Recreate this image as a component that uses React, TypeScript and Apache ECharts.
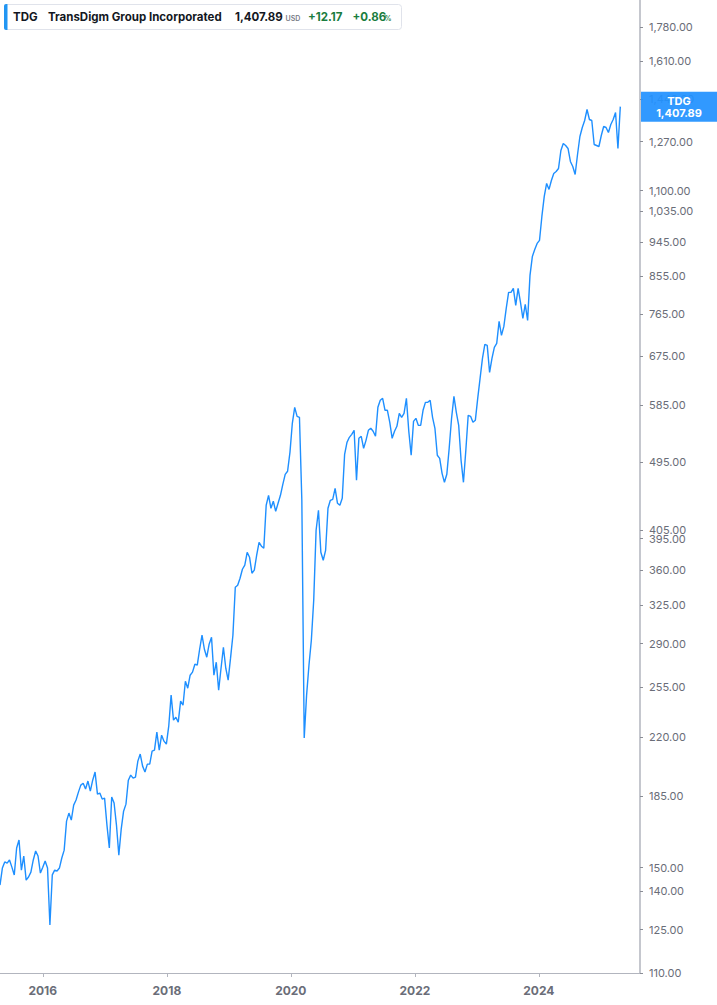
import React, { useEffect, useRef } from 'react';
import * as echarts from 'echarts';

const SYMBOL = 'TDG';
const COMPANY = 'TransDigm Group Incorporated';
const LAST_PRICE = 1407.89;
const LAST_LABEL = '1,407.89';
const CURRENCY = 'USD';
const CHANGE = '+12.17';
const CHANGE_PCT = '+0.86';

// bi-weekly closes, first one dated 2015-04-24
const START = [2015, 3, 24];
const STEP_DAYS = 14;
const X_MIN = [2015, 3, 24];
const X_MAX = [2025, 7, 19];

const closes2015_2016 = [
  142.5, 149.8, 152.5, 152.0, 153.4, 150.2, 146.8, 158.9, 162.7, 148.9,
  155.2, 144.6, 145.9, 148.0, 153.4, 157.5, 155.2, 147.6, 150.2, 152.9,
  149.8, 126.7, 146.8, 148.9, 148.5, 149.8, 154.3, 157.9, 172.0, 176.1,
  172.5, 180.3, 183.0, 187.3, 191.2, 192.3, 189.0, 193.5, 187.9, 194.0,
];
const closes2017_2018 = [
  198.7, 186.2, 186.8, 183.5, 184.0, 170.0, 158.9, 184.6, 181.4, 170.0,
  155.6, 168.0, 177.1, 180.8, 194.0, 196.9, 195.2, 195.8, 205.2, 209.5,
  202.2, 198.7, 203.4, 203.4, 211.3, 211.9, 223.5, 211.9, 221.5, 217.6,
  215.7, 227.4, 249.2, 231.5, 233.5, 230.1, 244.8, 241.9, 259.6, 254.3,
  264.2, 266.6, 272.9, 272.1, 285.2, 297.2, 285.2, 278.6, 289.5, 295.5,
  264.2, 274.5, 252.8, 269.7, 286.9, 269.7, 260.4, 277.8, 297.2, 342.3,
];
const closes2019_2020 = [
  344.3, 351.5, 360.9, 365.2, 379.4, 373.9, 356.7, 359.9, 376.1, 390.7,
  386.2, 383.9, 435.7, 448.6, 431.8, 440.8, 428.0, 438.2, 448.6, 463.4,
  477.2, 481.5, 509.1, 554.5, 581.2, 566.0, 564.3, 442.1, 219.6, 249.2,
  272.1, 292.9, 329.5, 404.8, 429.3, 379.4, 370.6, 381.6, 431.8, 442.1,
  443.4, 458.0, 438.2, 435.7, 444.7, 506.1, 524.3, 532.1, 536.8, 543.2,
];
const closes2021_2022 = [
  468.9, 530.5, 533.7, 515.2, 527.4, 543.2, 546.4, 541.6, 533.7, 581.2,
  593.3, 596.8, 576.1, 576.1, 556.1, 530.5, 541.6, 549.6, 571.0, 564.3,
  571.0, 596.8, 541.6, 504.7, 557.7, 562.7, 551.2, 551.2, 576.1, 589.8,
  589.8, 593.3, 564.3, 546.4, 504.7, 500.2, 478.6, 466.1, 477.2, 515.2,
  562.7, 600.3, 572.7, 551.2, 497.3, 466.1, 512.1, 567.7, 566.0, 556.1,
];
const closes2023_2025 = [
  559.4, 596.8, 632.9, 671.3, 699.5, 697.4, 644.2, 671.3, 693.4, 701.5,
  748.4, 718.2, 737.5, 777.6, 815.1, 815.1, 824.7, 784.5, 824.7, 791.5,
  755.1, 786.8, 750.6, 856.9, 906.1, 925.0, 941.4, 949.8, 1019.2, 1081.0,
  1123.1, 1103.5, 1133.1, 1156.6, 1163.5, 1173.8, 1237.6, 1263.3, 1255.9, 1244.9,
  1198.2, 1180.7, 1153.2, 1223.1, 1289.6, 1324.2, 1351.7, 1396.2, 1355.7, 1351.7,
  1259.6, 1255.9, 1252.2, 1293.4, 1328.1, 1324.2, 1304.9, 1335.9, 1355.7, 1383.9,
  1244.9, 1407.89,
];

const priceTicks = [
  110, 125, 140, 150, 185, 220, 255, 290, 325, 360, 395, 405, 495, 585, 675,
  765, 855, 945, 1035, 1100, 1270, 1440, 1610, 1780,
];
const yearTicks = [2016, 2018, 2020, 2022, 2024];

const FONT = 'Inter, "Noto Sans", sans-serif';
const LINE_COLOR = '#1e8fff';
const AXIS_COLOR = '#b2b5be';
const LABEL_COLOR = '#6a6d78';
const GREEN = '#1a7d40';
const DARK = '#131722';

const ts = (a: number[]) => new Date(a[0], a[1], a[2]).getTime();

export default function App() {
  const ref = useRef<HTMLDivElement>(null);

  useEffect(() => {
    if (!ref.current) return;
    const chart = echarts.init(ref.current, null, { renderer: 'svg' });
    const closes = [
      ...closes2015_2016,
      ...closes2017_2018,
      ...closes2019_2020,
      ...closes2021_2022,
      ...closes2023_2025,
    ];
    const start = ts(START);
    const data = closes.map((c, i) => [start + i * STEP_DAYS * 86400000, c]);
    const yearValues = yearTicks.map((y) => new Date(y, 0, 1).getTime());

    chart.setOption({
      animation: false,
      textStyle: { fontFamily: FONT },
      grid: { left: 0, top: 0, right: 77, bottom: 32, outerBoundsMode: 'none' },
      xAxis: {
        type: 'value',
        min: ts(X_MIN),
        max: ts(X_MAX),
        axisLine: { show: true, lineStyle: { color: AXIS_COLOR, width: 1.2 } },
        axisTick: {
          show: true,
          customValues: yearValues,
          length: 4,
          lineStyle: { color: AXIS_COLOR, width: 1 },
        },
        axisLabel: {
          customValues: yearValues,
          formatter: (v: number) => String(new Date(v).getFullYear()),
          color: LABEL_COLOR,
          fontFamily: FONT,
          fontSize: 12,
          fontWeight: 'bold',
          margin: 11,
          hideOverlap: false,
        },
        splitLine: { show: false },
      },
      yAxis: {
        type: 'log',
        logBase: 10,
        position: 'right',
        min: 110,
        max: 1927,
        axisLine: { show: true, lineStyle: { color: AXIS_COLOR, width: 1.5 } },
        axisTick: {
          show: true,
          customValues: priceTicks,
          length: 3,
          lineStyle: { color: '#8a8d96', width: 1 },
        },
        axisLabel: {
          customValues: priceTicks,
          formatter: (v: number) =>
            Number(v).toLocaleString('en-US', {
              minimumFractionDigits: 2,
              maximumFractionDigits: 2,
            }),
          color: LABEL_COLOR,
          fontFamily: FONT,
          fontSize: 11,
          margin: 9,
          hideOverlap: false,
        },
        splitLine: { show: false },
      },
      series: [
        {
          type: 'line',
          data,
          showSymbol: false,
          symbol: 'none',
          lineStyle: { color: LINE_COLOR, width: 1.4 },
          silent: true,
        },
      ],
    });

    const py = chart.convertToPixel({ yAxisIndex: 0 }, LAST_PRICE) as number;
    const hdr = (text: string, x: number, fill: string, font: string, y = 17) => ({
      type: 'text',
      x,
      y,
      z: 100,
      style: { text, fill, font, verticalAlign: 'middle' },
    });

    chart.setOption({
      graphic: {
        elements: [
          {
            type: 'rect',
            z: 100,
            shape: { x: 4.5, y: 4.5, width: 397, height: 25, r: 3 },
            style: { fill: '#ffffff', stroke: '#e0e3eb', lineWidth: 1 },
          },
          {
            type: 'rect',
            z: 101,
            shape: { x: 4, y: 4, width: 3.5, height: 26, r: [2, 0, 0, 2] },
            style: { fill: '#2196f3' },
          },
          hdr(SYMBOL, 13, DARK, `bold 11.5px ${FONT}`),
          hdr(COMPANY, 48, DARK, `bold 11.5px ${FONT}`),
          hdr(LAST_LABEL, 235, DARK, `bold 11.5px ${FONT}`),
          hdr(CURRENCY, 285.5, '#787b86', `600 7px ${FONT}`, 18.5),
          hdr(CHANGE, 308, GREEN, `bold 11.5px ${FONT}`),
          hdr(CHANGE_PCT, 352.5, GREEN, `bold 11.5px ${FONT}`),
          hdr('%', 384.5, GREEN, `600 7px ${FONT}`, 18.5),
          {
            type: 'rect',
            z: 100,
            shape: { x: 641, y: py - 15, width: 76, height: 30 },
            style: { fill: 'rgba(33,145,255,0.93)' },
          },
          {
            type: 'text',
            z: 101,
            x: 679,
            y: py - 6,
            style: {
              text: SYMBOL,
              fill: '#ffffff',
              font: `bold 11px ${FONT}`,
              align: 'center',
              verticalAlign: 'middle',
            },
          },
          {
            type: 'text',
            z: 101,
            x: 679,
            y: py + 6.5,
            style: {
              text: LAST_LABEL,
              fill: '#ffffff',
              font: `bold 11px ${FONT}`,
              align: 'center',
              verticalAlign: 'middle',
            },
          },
        ],
      },
    });

    return () => chart.dispose();
  }, []);

  return (
    <div
      ref={ref}
      style={{ position: 'fixed', left: 0, top: 0, width: 717, height: 1005, background: '#fff' }}
    />
  );
}
